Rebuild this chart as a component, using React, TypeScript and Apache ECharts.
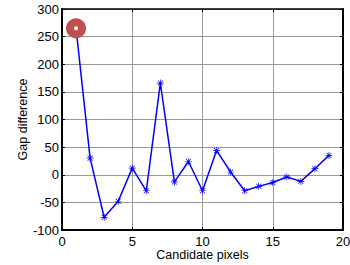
import React, { useEffect, useRef } from "react";
import * as echarts from "echarts";

const xValues = [1, 2, 3, 4, 5, 6, 7, 8, 9, 10, 11, 12, 13, 14, 15, 16, 17, 18, 19];
const gapDiff = [265, 30, -77, -48, 12, -29, 166, -13, 24, -29, 44, 5, -29, -21, -14, -4, -12, 11, 35];
const highlightIndex = 0;
const xTicks = [0, 5, 10, 15, 20];
const yTicks = [-100, -50, 0, 50, 100, 150, 200, 250, 300];

const STAR =
  "path://M4.5,0 L5.5,0 L5.5,10 L4.5,10 Z M0,4.5 L10,4.5 L10,5.5 L0,5.5 Z M1.1,1.8 L1.8,1.1 L8.9,8.2 L8.2,8.9 Z M8.2,1.1 L8.9,1.8 L1.8,8.9 L1.1,8.2 Z";

export default function App() {
  const ref = useRef<HTMLDivElement>(null);
  useEffect(() => {
    if (!ref.current) return;
    const chart = echarts.init(ref.current, undefined, { renderer: "svg" });
    const font = "'Liberation Sans', Arial, sans-serif";
    const lineData = xValues.map((x, i) => [x, gapDiff[i]]);
    const axisCommon = (w: number) => ({
      axisLine: { show: true, onZero: false, lineStyle: { color: "#000", width: w } },
      axisTick: { show: true, inside: true, length: 3, lineStyle: { color: "#000" } },
    });
    chart.setOption({
      animation: false,
      backgroundColor: "#fff",
      grid: { left: 62, right: 7, top: 9, bottom: 35, containLabel: false, outerBoundsMode: "none" },
      xAxis: [
        {
          type: "value",
          min: xTicks[0],
          max: xTicks[xTicks.length - 1],
          interval: 5,
          ...axisCommon(2),
          axisLabel: { color: "#000", fontSize: 13, fontFamily: font, margin: 5 },
          splitLine: { show: true, lineStyle: { color: "#999", width: 1 } },
          name: "Candidate pixels",
          nameLocation: "middle",
          nameGap: 18,
          nameMoveOverlap: false,
          nameTextStyle: { color: "#000", fontSize: 12.5, fontFamily: font },
        },
        {
          type: "value",
          position: "top",
          min: xTicks[0],
          max: xTicks[xTicks.length - 1],
          interval: 5,
          ...axisCommon(1.5),
          axisLabel: { show: false },
          splitLine: { show: false },
        },
      ],
      yAxis: [
        {
          type: "value",
          min: yTicks[0],
          max: yTicks[yTicks.length - 1],
          interval: 50,
          ...axisCommon(2),
          axisLabel: { color: "#000", fontSize: 13, fontFamily: font, margin: 3 },
          splitLine: { show: true, lineStyle: { color: "#999", width: 1 } },
          name: "Gap difference",
          nameLocation: "middle",
          nameGap: 33,
          nameMoveOverlap: false,
          nameTextStyle: { color: "#000", fontSize: 12.5, fontFamily: font },
        },
        {
          type: "value",
          position: "right",
          min: yTicks[0],
          max: yTicks[yTicks.length - 1],
          interval: 50,
          ...axisCommon(2),
          axisLabel: { show: false },
          splitLine: { show: false },
        },
      ],
      series: [
        {
          type: "line",
          data: lineData,
          symbol: STAR,
          symbolSize: 7,
          showSymbol: true,
          lineStyle: { color: "#0000ff", width: 1.5 },
          itemStyle: { color: "#0000ff" },
          z: 3,
        },
        {
          type: "scatter",
          data: [lineData[highlightIndex]],
          symbol: "circle",
          symbolSize: 12,
          itemStyle: { color: "#fff", borderColor: "#c0504d", borderWidth: 8, opacity: 1 },
          z: 4,
        },
      ],
    });
    return () => chart.dispose();
  }, []);
  return (
    <div
      ref={ref}
      style={{ position: "fixed", left: 0, top: 0, width: 350, height: 265 }}
    />
  );
}
